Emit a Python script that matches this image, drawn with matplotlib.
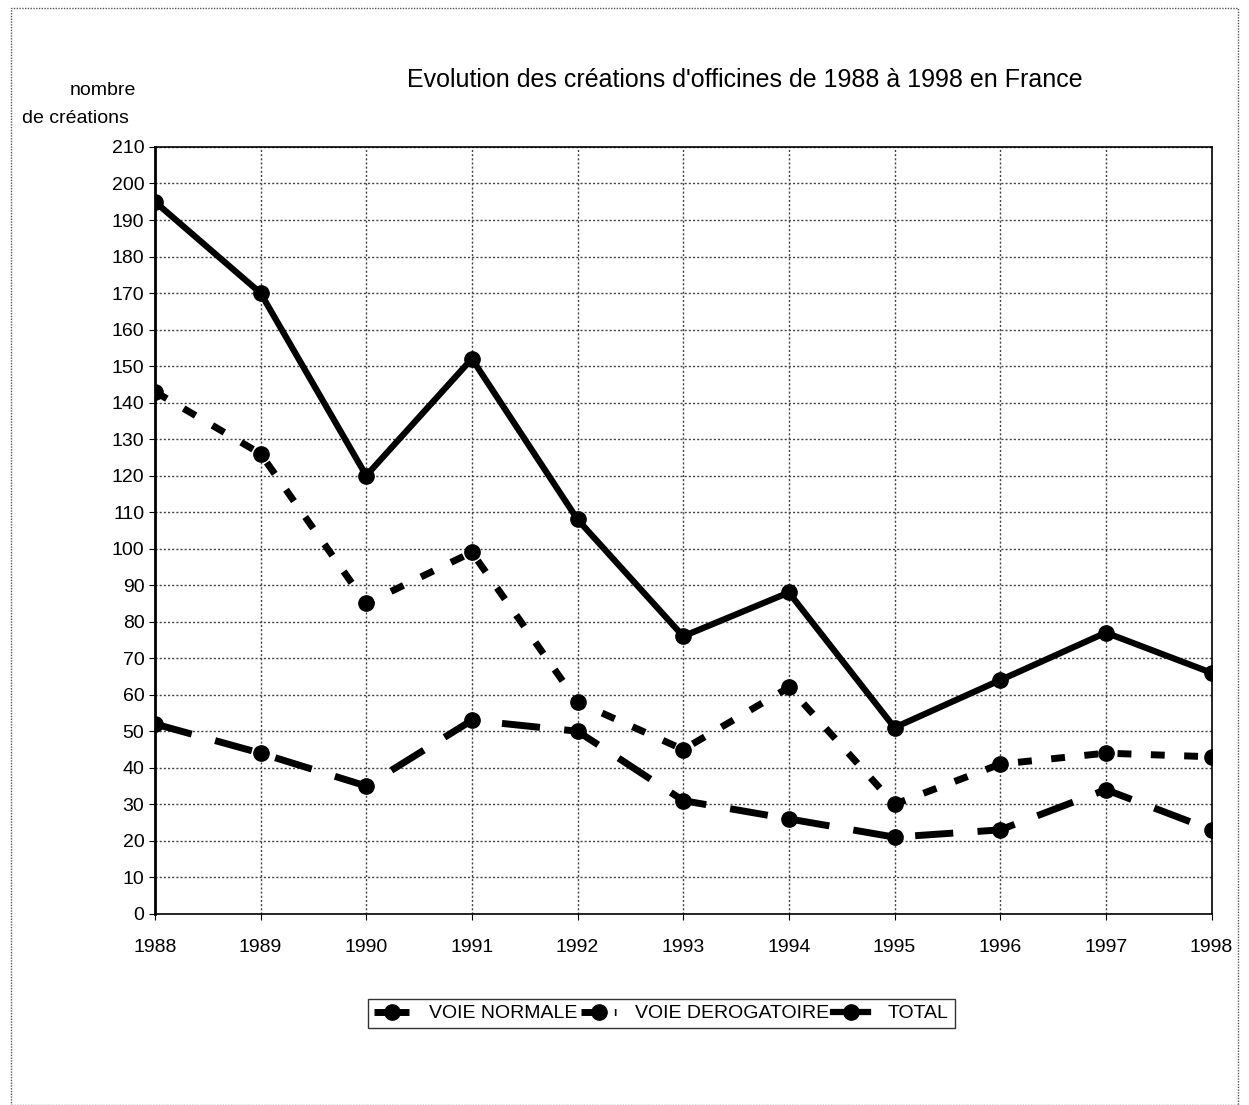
import matplotlib.pyplot as plt
from matplotlib.patches import Rectangle

annees = [1988, 1989, 1990, 1991, 1992, 1993, 1994, 1995, 1996, 1997, 1998]
voie_normale = [52, 44, 35, 53, 50, 31, 26, 21, 23, 34, 23]
voie_derogatoire = [143, 126, 85, 99, 58, 45, 62, 30, 41, 44, 43]
total = [195, 170, 120, 152, 108, 76, 88, 51, 64, 77, 66]

plt.rcParams['font.family'] = ['Liberation Sans', 'DejaVu Sans']

fig = plt.figure(figsize=(12.49, 11.05), dpi=100)
ax = fig.add_axes([0.124, 0.173, 0.846, 0.694])

x = list(range(len(annees)))
ax.plot(x, voie_normale, color='black', lw=5, dashes=(5.5, 3.5),
        marker='o', ms=11, label='VOIE NORMALE')
ax.plot(x, voie_derogatoire, color='black', lw=5, dashes=(2, 2.8),
        marker='o', ms=11, label='VOIE DEROGATOIRE')
ax.plot(x, total, color='black', lw=4.5, marker='o', ms=11, label='TOTAL')

ax.set_xlim(0, len(annees) - 1)
ax.set_ylim(0, 210)
ax.set_yticks(range(0, 211, 10))
ax.set_xticks(x)
ax.set_xticklabels([str(a) for a in annees])
ax.tick_params(axis='both', labelsize=14, length=4, direction='out')
ax.tick_params(axis='x', pad=14)
ax.grid(True, color='#444444', ls=(0, (1.5, 1.5)), lw=1)
for s in ax.spines.values():
    s.set_linewidth(1.2)
ax.spines['left'].set_linewidth(2)

fig.text(0.596, 0.928, "Evolution des créations d'officines de 1988 à 1998 en France",
         ha='center', va='center', fontsize=18)
fig.text(0.082, 0.918, 'nombre', ha='center', va='center', fontsize=14)
fig.text(0.06, 0.893, 'de créations', ha='center', va='center', fontsize=14)

leg = ax.legend(loc='center', bbox_to_anchor=(0.4795, -0.13), ncol=3, frameon=True,
                fontsize=14, handlelength=1.8, columnspacing=0.2, handletextpad=1.0,
                borderpad=0.3, fancybox=False, edgecolor='black')
leg.get_frame().set_linewidth(1)

fig.patches.append(Rectangle((0.009, 0.0), 0.982, 0.993, transform=fig.transFigure,
                             fill=False, ls=(0, (1, 1)), lw=1, edgecolor='#555555'))

fig.savefig('out.png', dpi=100)
